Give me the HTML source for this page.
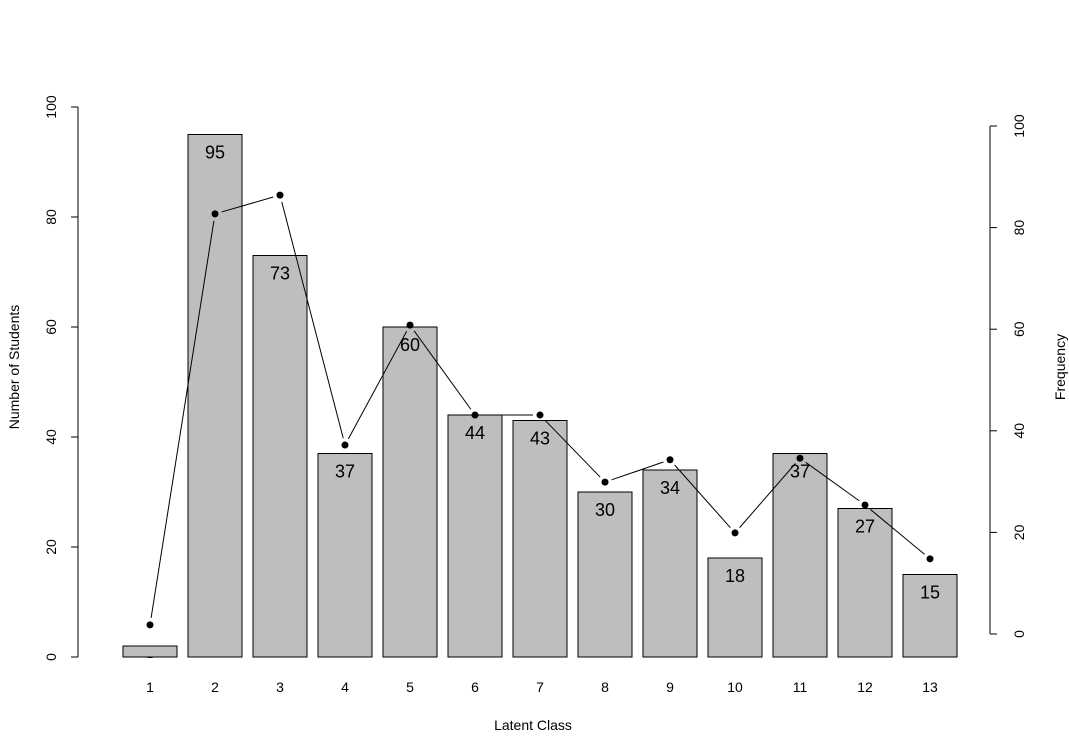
<!DOCTYPE html>
<html><head><meta charset="utf-8"><style>
html,body{margin:0;padding:0;background:#fff}
svg{display:block;font-family:"Liberation Sans",sans-serif}
</style></head><body>
<svg id="chart" width="1069" height="755" xmlns="http://www.w3.org/2000/svg">
<defs><clipPath id="plotclip"><rect x="78" y="0" width="912" height="658"/></clipPath></defs>
<g id="bars" clip-path="url(#plotclip)"></g>
<g id="line"></g>
<g id="axes"></g>
<text x="533" y="730" font-size="14" text-anchor="middle">Latent Class</text>
<text x="19" y="367" font-size="14" text-anchor="middle" transform="rotate(-90 19 367)">Number of Students</text>
<text x="1065" y="367" font-size="14" text-anchor="middle" transform="rotate(-90 1065 367)">Frequency</text>
</svg>
<script>
const categories=["1","2","3","4","5","6","7","8","9","10","11","12","13"];
const students=[2,95,73,37,60,44,43,30,34,18,37,27,15];
const frequency=[1.8,82.7,86.4,37.2,60.8,43.1,43.1,29.9,34.3,19.9,34.6,25.4,14.8];
const yTicks=[0,20,40,60,80,100];
const y2Ticks=[0,20,40,60,80,100];
const NS="http://www.w3.org/2000/svg";
function yL(v){return 657-v*5.5;}
function yR(v){return 634-v*5.08;}
function xC(i){return 150+i*65;}
function mk(tag,attrs,parent,txt){const e=document.createElementNS(NS,tag);for(const k in attrs)e.setAttribute(k,attrs[k]);if(txt!==undefined)e.textContent=txt;parent.appendChild(e);return e;}
const bars=document.getElementById('bars'),line=document.getElementById('line'),axes=document.getElementById('axes');
students.forEach((v,i)=>{
  const r=mk('rect',{x:xC(i)-27,y:yL(v),width:54,height:yL(0)-yL(v),fill:'#bebebe',stroke:'#000','stroke-width':1},bars);
  
  
  const t=mk('text',{x:xC(i),y:yL(v)+24,'font-size':18,'text-anchor':'middle'},bars,String(v));
  
  
  const xl=mk('text',{x:xC(i),y:692,'font-size':14,'text-anchor':'middle'},axes,categories[i]);
  
  
});
for(let i=0;i<frequency.length-1;i++){
  const x1=xC(i),y1=yR(frequency[i]),x2=xC(i+1),y2=yR(frequency[i+1]);
  const d=Math.hypot(x2-x1,y2-y1),g=7;
  if(d>2*g){const ux=(x2-x1)/d,uy=(y2-y1)/d;
    const l=mk('line',{x1:x1+ux*g,y1:y1+uy*g,x2:x2-ux*g,y2:y2-uy*g,stroke:'#000','stroke-width':1},line);
    
    }
}
frequency.forEach((v,i)=>{
  const c=mk('circle',{cx:xC(i),cy:yR(v),r:3.5,fill:'#000'},line);
  
  
});
mk('line',{x1:78,y1:yL(0),x2:78,y2:yL(100),stroke:'#000'},axes);
yTicks.forEach(v=>{
  mk('line',{x1:71,y1:yL(v),x2:78,y2:yL(v),stroke:'#000'},axes);
  const t=mk('text',{x:56,y:yL(v),'font-size':14,'text-anchor':'middle',transform:`rotate(-90 56 ${yL(v)})`},axes,String(v));
  
  
});
mk('line',{x1:990,y1:yR(0),x2:990,y2:yR(100),stroke:'#000'},axes);
y2Ticks.forEach(v=>{
  mk('line',{x1:990,y1:yR(v),x2:997,y2:yR(v),stroke:'#000'},axes);
  const t=mk('text',{x:1024,y:yR(v),'font-size':14,'text-anchor':'middle',transform:`rotate(-90 1024 ${yR(v)})`},axes,String(v));
  
  
});
</script>
</body></html>
